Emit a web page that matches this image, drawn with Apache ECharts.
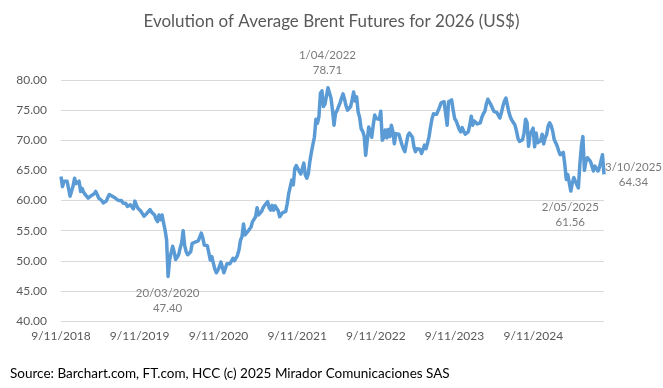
<!DOCTYPE html>
<html>
<head>
<meta charset="utf-8">
<script src="https://cdn.jsdelivr.net/npm/echarts@6/dist/echarts.min.js"></script>
<style>
html,body{margin:0;padding:0;background:#fff;}
#chart{width:663px;height:388px;}
</style>
</head>
<body>
<div id="chart"></div>
<script>
// Weekly observations (Fridays), first week = 9/11/2018, last = 3/10/2025
const startDate = '2018-11-09';
const values = [
64.0,62.3,63.2,63.4,63.2,62.0,60.7,61.0,62.4,63.7,
62.8,62.6,63.2,61.5,62.0,61.4,61.0,61.2,60.4,60.6,
60.8,60.7,61.1,61.5,61.0,60.4,60.2,60.0,59.6,59.3,
59.9,60.5,61.0,60.8,60.7,60.5,60.4,60.2,60.0,60.2,
60.0,59.6,59.9,59.5,59.0,58.7,59.3,59.6,58.6,59.9,
59.2,58.7,58.4,58.2,58.5,57.4,57.6,57.9,58.2,58.5,
58.1,57.9,57.6,56.9,56.5,57.6,56.8,57.6,56.3,55.1,
53.5,47.40,50.2,49.9,52.4,51.5,50.2,49.9,51.0,52.1,
53.0,55.0,52.5,51.5,51.0,50.9,51.5,52.9,53.0,53.1,
53.3,53.3,53.5,54.6,53.8,52.6,52.3,52.5,52.3,50.1,
50.7,49.6,48.6,48.0,48.4,49.0,49.8,50.1,48.0,48.2,
49.5,49.7,49.5,49.8,50.4,50.0,49.8,50.9,51.8,53.4,
54.0,56.1,54.3,54.5,54.9,55.1,55.6,56.5,56.8,57.3,
58.8,57.6,57.6,58.2,58.8,59.2,59.5,59.8,58.8,58.4,
59.2,58.4,59.1,58.7,58.3,57.3,57.5,58.0,58.1,58.2,
59.5,61.2,61.5,63.4,62.6,65.3,65.8,65.6,64.8,64.4,
64.2,66.2,64.2,63.7,64.5,66.5,68.0,69.3,70.5,73.5,
72.8,73.9,77.8,78.2,75.6,76.0,76.3,78.71,78.4,77.0,
75.0,72.5,74.5,74.9,75.6,76.2,77.0,77.7,76.8,75.7,
75.0,74.7,75.6,76.7,78.0,76.5,77.2,74.7,73.8,71.9,
71.5,70.7,67.5,67.3,72.2,71.5,70.5,72.5,74.2,73.6,
73.3,73.5,74.8,70.0,70.5,71.7,70.4,71.8,70.6,72.5,
71.5,69.4,71.1,71.4,71.0,71.1,69.3,68.6,68.1,69.5,
70.8,71.2,71.4,70.5,68.9,68.1,68.6,68.9,68.5,67.8,
68.4,69.2,68.6,69.5,70.6,72.2,73.6,74.4,74.5,74.3,
74.5,75.5,76.2,76.4,76.4,76.2,72.5,76.4,76.6,76.7,
75.0,73.6,73.2,72.5,71.8,71.4,72.1,71.5,71.0,71.2,
71.4,72.5,74.0,72.5,73.2,73.3,72.7,72.9,72.9,73.8,
74.4,74.8,76.0,76.8,76.6,75.9,75.6,74.8,74.5,74.6,
74.1,73.7,74.6,75.7,76.5,77.0,75.8,74.6,73.8,73.3,
72.9,72.5,71.5,70.3,69.8,69.6,70.1,71.2,73.5,72.9,
69.0,71.0,71.5,72.0,68.9,71.2,69.6,69.3,69.9,71.0,
69.4,70.4,71.0,72.4,72.9,72.4,71.5,70.1,69.6,69.0,
68.2,67.6,67.8,68.0,66.0,63.5,64.3,64.6,61.56,62.9,
63.8,64.0,62.6,62.1,66.0,69.0,70.6,65.0,66.5,67.1,
66.9,66.5,66.2,64.9,65.7,65.6,64.9,65.5,65.3,67.6,
64.34
];
const xTickDates = ['2018-11-09','2019-11-09','2020-11-09','2021-11-09','2022-11-09','2023-11-09','2024-11-09'];
const yMin = 40, yMax = 80, yStep = 5;
// Annotated weeks (index into values)
const annotatedWeeks = [71, 177, 338, 360];

const DAY = 86400000;
const toTs = s => { const p = s.split('-').map(Number); return Date.UTC(p[0], p[1]-1, p[2]); };
const startTs = toTs(startDate);
const dates = values.map((v, i) => startTs + i * 7 * DAY);
const fmtDate = ts => { const d = new Date(ts); return d.getUTCDate() + '/' + String(d.getUTCMonth()+1).padStart(2,'0') + '/' + d.getUTCFullYear(); };
const fmtTick = ts => { const d = new Date(ts); return d.getUTCDate() + '/' + (d.getUTCMonth()+1) + '/' + d.getUTCFullYear(); };

const FONT = 'Lato, "Liberation Sans", sans-serif';
const TXT = '#595959';
const labelOffsets = { 71: [0, 25], 177: [0, -24], 338: [0, 24], 360: [30, 1] };

const annData = annotatedWeeks.map(i => ({
  value: [dates[i], values[i]],
  label: {
    show: true,
    position: labelOffsets[i],
    align: 'center',
    verticalAlign: 'middle',
    formatter: fmtDate(dates[i]) + '\n' + values[i].toFixed(2)
  }
}));

const chart = echarts.init(document.getElementById('chart'), null, { renderer: 'canvas' });
chart.setOption({
  animation: false,
  backgroundColor: '#ffffff',
  textStyle: { fontFamily: FONT },
  title: {
    text: 'Evolution of Average Brent Futures for 2026 (US$)',
    left: 'center',
    top: 8,
    textStyle: { fontFamily: FONT, fontSize: 17, fontWeight: 'normal', color: TXT }
  },
  grid: { left: 61, right: 59, top: 80, bottom: 67, containLabel: false },
  xAxis: {
    type: 'value',
    min: startTs,
    max: dates[dates.length - 1],
    axisLine: { show: false },
    axisTick: { show: false },
    splitLine: { show: false },
    axisLabel: {
      customValues: xTickDates.map(toTs),
      formatter: v => fmtTick(v),
      color: TXT, fontFamily: FONT, fontSize: 12, margin: 9, hideOverlap: false
    }
  },
  yAxis: {
    type: 'value',
    min: yMin, max: yMax, interval: yStep,
    axisLine: { show: false },
    axisTick: { show: false },
    splitLine: { lineStyle: { color: '#d9d9d9', width: 1 } },
    axisLabel: { formatter: v => v.toFixed(2), color: TXT, fontFamily: FONT, fontSize: 12, margin: 14 }
  },
  series: [
    {
      type: 'line',
      data: values.map((v, i) => [dates[i], v]),
      showSymbol: false,
      lineStyle: { color: '#5b9bd5', width: 3.5, join: 'round' },
      itemStyle: { color: '#5b9bd5' },
      z: 2
    },
    {
      type: 'scatter',
      data: annData,
      symbolSize: 1,
      itemStyle: { color: 'rgba(0,0,0,0)' },
      label: { color: TXT, fontFamily: FONT, fontSize: 11.5, lineHeight: 15 },
      z: 3
    }
  ],
  graphic: [{
    type: 'text',
    left: 10,
    top: 367,
    style: { text: 'Source: Barchart.com, FT.com, HCC (c) 2025 Mirador Comunicaciones SAS', fill: '#000', font: '13.5px ' + FONT }
  }]
});
</script>
</body>
</html>
